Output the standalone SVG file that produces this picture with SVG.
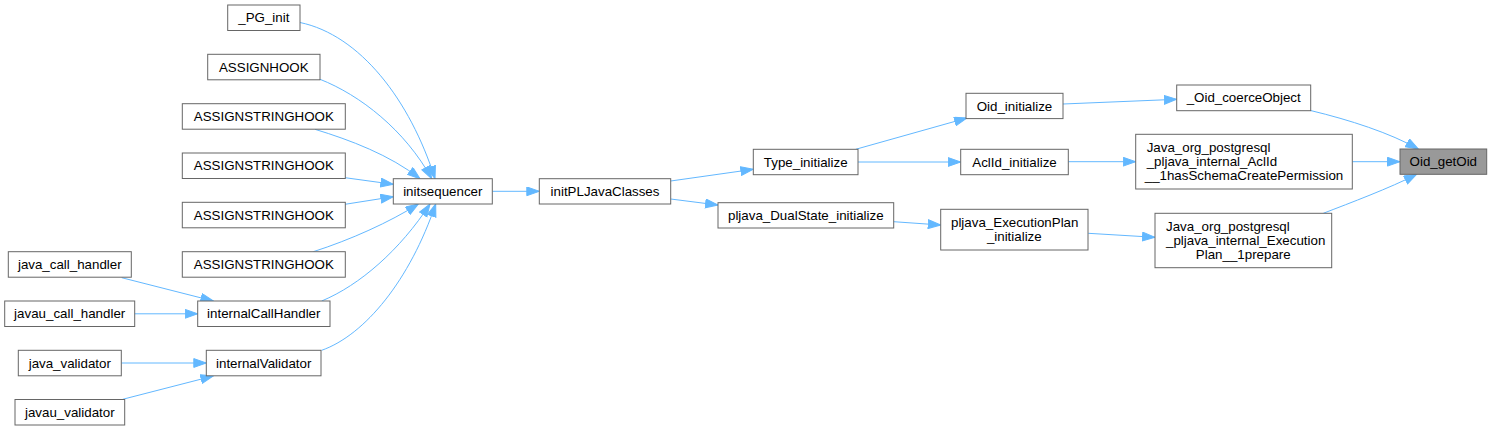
<svg xmlns="http://www.w3.org/2000/svg" width="1492" height="431" viewBox="0 0 1492 431">
<style>
.n rect{fill:#ffffff;stroke:#666666;stroke-width:1}
.n text{font-family:"Liberation Sans",Arial,sans-serif;font-size:13.33px;fill:#000000}
.c{text-anchor:middle}
.e path{fill:none;stroke:#63b8ff;stroke-width:1;marker-end:url(#ah)}
</style>
<defs>
<marker id="ah" markerUnits="userSpaceOnUse" markerWidth="14" markerHeight="10" refX="13" refY="4.7" orient="auto" viewBox="0 0 14 10">
<path d="M0.5,0.3 L13,4.7 L0.5,9.1 z" fill="#63b8ff" stroke="#63b8ff" stroke-width="1"/>
</marker>
</defs>
<rect width="1492" height="431" fill="#ffffff"/>
<g id="connectors" class="e">
<path d="M300,22.5 C360,35 410,100 435,178.7"/>
<path d="M320,79.3 C360,95 405,130 431.7,178.7"/>
<path d="M315,129.3 C350,140 390,155 420,178.7"/>
<path d="M345,177.7 L393.3,184.3"/>
<path d="M345,204.3 L393.3,196.7"/>
<path d="M313.3,251.7 C350,240 390,222 418.3,204"/>
<path d="M321.7,301 C360,285 400,250 430,204"/>
<path d="M321.7,350.3 C365,335 410,280 435.7,204"/>
<path d="M121.7,277.7 L213.3,301"/>
<path d="M134.7,313.8 L197.7,313.8"/>
<path d="M121.3,363 L206.3,363"/>
<path d="M122.7,399.3 L213.3,376"/>
<path d="M492.3,191.3 L539.3,191.3"/>
<path d="M670.7,181 L753.3,169.3"/>
<path d="M670.7,199 L718,205"/>
<path d="M855.7,149.3 L967,118"/>
<path d="M858,162 L960.7,162"/>
<path d="M893.7,221.7 L940.7,225"/>
<path d="M1063,104 L1176.7,99.3"/>
<path d="M1068.3,161.7 L1135.7,161.7"/>
<path d="M1088.3,233.3 L1155,237.3"/>
<path d="M1310.5,110.5 C1350,120 1390,133 1418.3,149"/>
<path d="M1352.3,161.7 L1400,161.7"/>
<path d="M1323.3,213.3 C1350,203 1390,188 1416.7,174.3"/>
</g>
<g id="n_PG_init" class="n"><rect x="227.7" y="5" width="72.3" height="25.5"/><text class="c" x="263.8" y="22.3">_PG_init</text></g>
<g id="n_ASSIGNHOOK" class="n"><rect x="207.7" y="54.3" width="112.3" height="25.5"/><text class="c" x="263.8" y="71.6">ASSIGNHOOK</text></g>
<g id="n_ASSIGNSTRINGHOOK1" class="n"><rect x="182.3" y="103.7" width="163" height="25.5"/><text class="c" x="263.8" y="121">ASSIGNSTRINGHOOK</text></g>
<g id="n_ASSIGNSTRINGHOOK2" class="n"><rect x="182.3" y="153" width="163" height="25.5"/><text class="c" x="263.8" y="170.3">ASSIGNSTRINGHOOK</text></g>
<g id="n_ASSIGNSTRINGHOOK3" class="n"><rect x="182.3" y="202.3" width="163" height="25.5"/><text class="c" x="263.8" y="219.6">ASSIGNSTRINGHOOK</text></g>
<g id="n_ASSIGNSTRINGHOOK4" class="n"><rect x="182.3" y="251.7" width="163" height="25.5"/><text class="c" x="263.8" y="269">ASSIGNSTRINGHOOK</text></g>
<g id="n_java_call_handler" class="n"><rect x="8.3" y="251.7" width="123" height="25.5"/><text class="c" x="69.8" y="269">java_call_handler</text></g>
<g id="n_javau_call_handler" class="n"><rect x="4.7" y="301" width="130" height="25.5"/><text class="c" x="69.7" y="318.3">javau_call_handler</text></g>
<g id="n_internalCallHandler" class="n"><rect x="197.7" y="301" width="132.3" height="25.5"/><text class="c" x="263.8" y="318.3">internalCallHandler</text></g>
<g id="n_java_validator" class="n"><rect x="18.3" y="350.3" width="103" height="25.5"/><text class="c" x="69.8" y="367.6">java_validator</text></g>
<g id="n_internalValidator" class="n"><rect x="206.3" y="350.3" width="114.7" height="25.5"/><text class="c" x="263.7" y="367.6">internalValidator</text></g>
<g id="n_javau_validator" class="n"><rect x="15" y="399.5" width="109.7" height="25.5"/><text class="c" x="69.8" y="416.8">javau_validator</text></g>
<g id="n_initsequencer" class="n"><rect x="393.3" y="178.7" width="99" height="25.3"/><text class="c" x="442.8" y="195.9">initsequencer</text></g>
<g id="n_initPLJavaClasses" class="n"><rect x="539.3" y="178.7" width="131.4" height="25.3"/><text class="c" x="605" y="195.9">initPLJavaClasses</text></g>
<g id="n_Type_initialize" class="n"><rect x="753.3" y="149.3" width="104.7" height="25.4"/><text class="c" x="805.7" y="166.5">Type_initialize</text></g>
<g id="n_pljava_DualState_initialize" class="n"><rect x="718" y="202.7" width="175.7" height="25.3"/><text class="c" x="805.8" y="219.8">pljava_DualState_initialize</text></g>
<g id="n_Oid_initialize" class="n"><rect x="966" y="93.3" width="97" height="25.3"/><text class="c" x="1014.5" y="110.5">Oid_initialize</text></g>
<g id="n_AclId_initialize" class="n"><rect x="960.7" y="149.3" width="107.6" height="25.4"/><text class="c" x="1014.5" y="166.5">AclId_initialize</text></g>
<g id="n_pljava_ExecutionPlan_initialize" class="n"><rect x="940.7" y="209.3" width="147.3" height="40.7"/><text x="951" y="226.5">pljava_ExecutionPlan</text><text class="c" x="1014.3" y="240.5">_initialize</text></g>
<g id="n_Oid_coerceObject" class="n"><rect x="1176.7" y="85" width="134" height="25.7"/><text class="c" x="1243.7" y="102.3">_Oid_coerceObject</text></g>
<g id="n_Java_AclId" class="n"><rect x="1135.7" y="134.3" width="216.6" height="54.7"/><text x="1146.7" y="151.6">Java_org_postgresql</text><text x="1146.7" y="165.6">_pljava_internal_AclId</text><text class="c" x="1244" y="179.6">__1hasSchemaCreatePermission</text></g>
<g id="n_Java_ExecutionPlan" class="n"><rect x="1155" y="213.3" width="176.7" height="54.4"/><text x="1166" y="230.6">Java_org_postgresql</text><text x="1166" y="244.6">_pljava_internal_Execution</text><text class="c" x="1243.3" y="258.6">Plan__1prepare</text></g>
<g id="n_Oid_getOid" class="n"><rect x="1400" y="149" width="86.7" height="25.3" style="fill:#999999"/><text class="c" x="1443.3" y="166.2">Oid_getOid</text></g>
</svg>
